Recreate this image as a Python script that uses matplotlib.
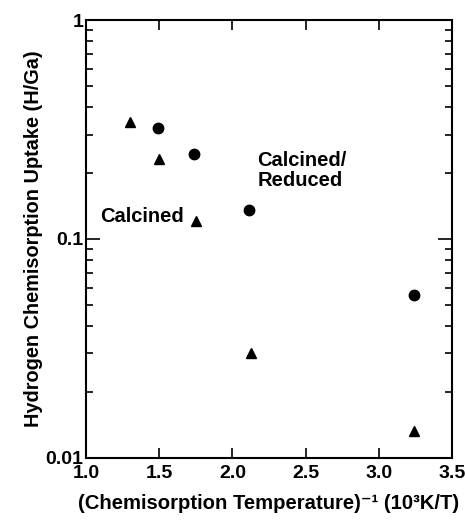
import matplotlib.pyplot as plt
from matplotlib.ticker import LogLocator, NullFormatter, FixedLocator, FixedFormatter

# 数据：化学吸附温度倒数 vs 氢吸附量
calcined_x = [1.30, 1.50, 1.75, 2.13, 3.24]
calcined_y = [0.343, 0.232, 0.121, 0.0303, 0.0133]
reduced_x = [1.49, 1.74, 2.11, 3.24]
reduced_y = [0.322, 0.245, 0.136, 0.0553]

x_ticks = [1.0, 1.5, 2.0, 2.5, 3.0, 3.5]
y_ticks = [0.01, 0.1, 1]
y_tick_labels = ['0.01', '0.1', '1']

plt.rcParams['font.family'] = ['Liberation Sans', 'DejaVu Sans']
plt.rcParams['font.weight'] = 'bold'

fig = plt.figure(figsize=(4.65, 5.27), dpi=100)
ax = fig.add_axes([0.185, 0.131, 0.787, 0.831])

ax.plot(calcined_x, calcined_y, linestyle='none', marker='^', color='black', markersize=7)
ax.plot(reduced_x, reduced_y, linestyle='none', marker='o', color='black', markersize=7.5)

ax.set_yscale('log')
ax.set_xlim(1.0, 3.5)
ax.set_ylim(0.01, 1)

ax.xaxis.set_major_locator(FixedLocator(x_ticks))
ax.set_xticklabels([f'{v:.1f}' for v in x_ticks])
ax.yaxis.set_major_locator(FixedLocator(y_ticks))
ax.yaxis.set_major_formatter(FixedFormatter(y_tick_labels))
ax.yaxis.set_minor_locator(LogLocator(base=10, subs=range(2, 10)))
ax.yaxis.set_minor_formatter(NullFormatter())

ax.tick_params(axis='both', which='both', direction='in', top=True, right=True,
               width=1.2, labelsize=14)
ax.tick_params(axis='x', which='major', length=7, pad=5)
ax.tick_params(axis='y', which='major', length=10, pad=2)
ax.tick_params(axis='y', which='minor', length=5)
for lbl in ax.get_xticklabels() + ax.get_yticklabels():
    lbl.set_fontweight('bold')
for sp in ax.spines.values():
    sp.set_linewidth(1.5)

ax.text(1.096, 0.127, 'Calcined', fontsize=14.5, fontweight='bold', va='center', ha='left')
ax.text(2.17, 0.205, 'Calcined/\nReduced', fontsize=14.5, fontweight='bold',
        va='center', ha='left', linespacing=1.1)

ax.set_xlabel('(Chemisorption Temperature)\u207b\u00b9 (10\u00b3K/T)', fontsize=14.6,
              fontweight='bold', labelpad=9)
ax.set_ylabel('Hydrogen Chemisorption Uptake (H/Ga)', fontsize=14.3,
              fontweight='bold', labelpad=2)

fig.savefig('out.png', dpi=100)
